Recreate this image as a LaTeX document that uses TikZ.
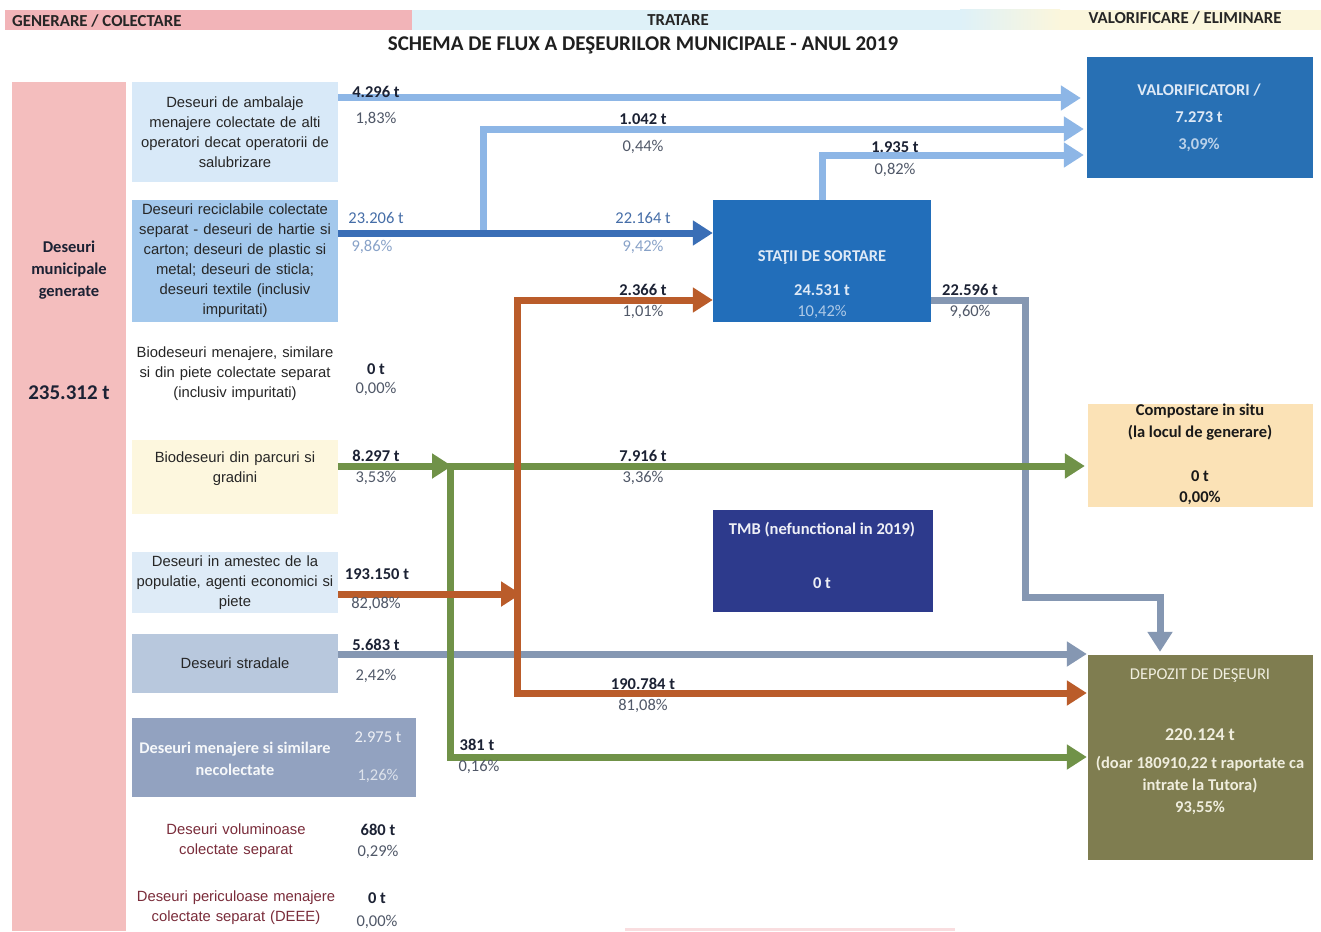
\documentclass[tikz,border=0pt]{standalone}
\usepackage{fontspec}
\setmainfont{Liberation Sans}
\newfontfamily\calib{Carlito}
\usetikzlibrary{arrows.meta}
\definecolor{hpink}{RGB}{242,180,184}
\definecolor{hcyan}{RGB}{222,241,248}
\definecolor{hyellow}{RGB}{251,246,220}
\definecolor{colpink}{RGB}{244,190,190}
\definecolor{boxa}{RGB}{216,233,248}
\definecolor{boxb}{RGB}{163,200,236}
\definecolor{boxd}{RGB}{253,247,222}
\definecolor{boxe}{RGB}{222,235,247}
\definecolor{boxf}{RGB}{184,200,221}
\definecolor{boxg}{RGB}{146,162,192}
\definecolor{cval}{RGB}{40,112,180}
\definecolor{csort}{RGB}{34,110,186}
\definecolor{ccomp}{RGB}{251,226,182}
\definecolor{ctmb}{RGB}{45,58,140}
\definecolor{cdep}{RGB}{127,125,80}
\definecolor{flblue}{RGB}{141,182,230}
\definecolor{fdblue}{RGB}{58,110,182}
\definecolor{fbrown}{RGB}{186,92,42}
\definecolor{fgreen}{RGB}{112,146,72}
\definecolor{fgrey}{RGB}{133,151,178}
\definecolor{ltext}{RGB}{38,38,38}
\definecolor{mtext}{RGB}{122,44,58}
\definecolor{tncol}{RGB}{28,34,52}
\definecolor{pccol}{RGB}{80,88,104}
\definecolor{bltn}{RGB}{70,110,168}
\definecolor{blpc}{RGB}{136,162,200}
\definecolor{wtext}{RGB}{222,233,246}
\definecolor{dtext}{RGB}{240,238,222}
\tikzset{
  ft/.tip={Triangle[width=24pt,length=20pt]},
  lbox/.style={align=center, text width=204pt, inner xsep=1pt, inner ysep=0pt,
    minimum width=206pt, font=\fontsize{14.8}{20}\selectfont, text=ltext},
  tn/.style={font=\calib\bfseries\fontsize{16.5}{18}\selectfont, text=tncol, inner sep=0pt},
  pc/.style={font=\calib\fontsize{16.5}{18}\selectfont, text=pccol, inner sep=0pt},
  hdr/.style={font=\calib\bfseries\fontsize{16.8}{18}\selectfont, text=black!85, inner sep=0pt},
  rbox/.style={inner sep=0pt, draw=none},
  rt/.style={font=\calib\bfseries\fontsize{16.5}{18}\selectfont, inner sep=0pt},
  flow/.style={line width=7pt, line join=miter},
}
\begin{document}
\begin{tikzpicture}[x=1pt,y=-1pt]
\useasboundingbox (0,0) rectangle (1321,931);
\fill[white] (0,0) rectangle (1321,931);
% header band
\fill[hpink] (5,10) rectangle (412,30);
\fill[hcyan] (412,10) rectangle (960,30);
\shade[left color=hcyan, right color=hyellow] (960,10) rectangle (1060,30);
\fill[hyellow] (1060,10) rectangle (1321,30);
\node[hdr, anchor=west] (hgen) at (12,21) {GENERARE / COLECTARE};
\node[hdr] (htrat) at (678,20) {TRATARE};
\node[hdr] (hval) at (1185,18) {VALORIFICARE / ELIMINARE};
\node[font=\calib\bfseries\fontsize{21}{24}\selectfont, text=black!88, inner sep=0pt] (title) at (643,45)
  {SCHEMA DE FLUX A DEŞEURILOR MUNICIPALE - ANUL 2019};
% generated column
\node[fill=colpink, minimum width=114pt, minimum height=849pt, inner sep=0pt, anchor=north west] (gen) at (12,82) {};
\node[align=center, font=\calib\bfseries\fontsize{16.5}{22}\selectfont, text=tncol, inner sep=0pt] (gent) at (69,270)
  {Deseuri\\municipale\\generate};
\node[font=\calib\bfseries\fontsize{21}{24}\selectfont, text=tncol, inner sep=0pt] (gentot) at (69,393) {235.312 t};
% left boxes
\node[lbox, fill=boxa, minimum height=100pt] (b1) at (235,132)
  {Deseuri de ambalaje\\menajere colectate de alti\\operatori decat operatorii de\\salubrizare};
\node[lbox, fill=boxb, minimum height=122pt] (b2) at (235,261)
  {Deseuri reciclabile colectate\\separat - deseuri de hartie si\\carton; deseuri de plastic si\\metal; deseuri de sticla;\\deseuri textile (inclusiv\\impuritati)};
\node[lbox, minimum height=60pt] (b3) at (235,374)
  {Biodeseuri menajere, similare\\si din piete colectate separat\\(inclusiv impuritati)};
\node[lbox, fill=boxd, minimum height=74pt] (b4) at (235,477)
  {Biodeseuri din parcuri si\\gradini\\\mbox{}};
\node[lbox, fill=boxe, minimum height=61pt] (b5) at (235,582.5)
  {Deseuri in amestec de la\\populatie, agenti economici si\\piete};
\node[lbox, fill=boxf, minimum height=59pt] (b6) at (235,663.5) {Deseuri stradale};
\node[rbox, fill=boxg, minimum width=284pt, minimum height=79pt] (b7) at (274,757.5) {};
\node[align=center, font=\calib\bfseries\fontsize{16.3}{22}\selectfont, text=white!92!boxg, inner sep=0pt] (b7t) at (235,759)
  {Deseuri menajere si similare\\necolectate};
\node[lbox, text=mtext] (b8) at (236,840.5) {Deseuri voluminoase\\colectate separat};
\node[lbox, text=mtext] (b9) at (236,908) {Deseuri periculoase menajere\\colectate separat (DEEE)};
% right boxes
\node[rbox, fill=cval, minimum width=226pt, minimum height=121pt] (val) at (1200,117.5) {};
\node[rt, text=wtext] (valt1) at (1199,90) {VALORIFICATORI /};
\node[rt, text=wtext] (valt2) at (1199,117) {7.273 t};
\node[rt, text=wtext!80!cval] (valt3) at (1199,145) {3,09\%};
\node[rbox, fill=csort, minimum width=218pt, minimum height=122pt] (sort) at (822,261) {};
\node[rt, text=wtext] (sortt1) at (822,257) {STAŢII DE SORTARE};
\node[rt, text=wtext] (sortt2) at (822,290) {24.531 t};
\node[rt, font=\calib\fontsize{16.5}{18}\selectfont, text=wtext!75!csort] (sortt3) at (822,312) {10,42\%};
\node[rbox, fill=ccomp, minimum width=225pt, minimum height=103pt] (comp) at (1200.5,455.5) {};
\node[rt, text=black!90] (compt1) at (1200,411) {Compostare in situ};
\node[rt, text=black!90] (compt2) at (1200,433) {(la locul de generare)};
\node[rt, text=black!90] (compt3) at (1200,476) {0 t};
\node[rt, text=black!90] (compt4) at (1200,498) {0,00\%};
\node[rbox, fill=ctmb, minimum width=220pt, minimum height=102pt] (tmb) at (823,561) {};
\node[rt, text=white!92!ctmb] (tmbt1) at (822,530) {TMB (nefunctional in 2019)};
\node[rt, text=white!92!ctmb] (tmbt2) at (822,583) {0 t};
\node[rbox, fill=cdep, minimum width=225pt, minimum height=205pt] (dep) at (1200.5,757.5) {};
\node[rt, font=\calib\fontsize{16.5}{18}\selectfont, text=dtext] (dept1) at (1200,676) {DEPOZIT DE DEŞEURI};
\node[rt, font=\calib\bfseries\fontsize{18}{20}\selectfont, text=dtext] (dept2) at (1200,735) {220.124 t};
\node[rt, text=dtext] (dept3) at (1200,764) {(doar 180910,22 t raportate ca};
\node[rt, text=dtext] (dept4) at (1200,786) {intrate la Tutora)};
\node[rt, text=dtext] (dept5) at (1200,808) {93,55\%};
% faint bar at bottom
\fill[hpink!45] (625,928) rectangle (955,931);
% level coordinates
\coordinate (y98) at (0,98);
\coordinate (y129) at (0,129);
\coordinate (y155) at (0,155);
\coordinate (y233) at (0,233);
\coordinate (y300) at (0,300);
\coordinate (y466) at (0,466);
\coordinate (y594) at (0,594);
\coordinate (y597) at (0,597);
\coordinate (y654) at (0,654);
\coordinate (y693) at (0,693);
\coordinate (y757) at (0,757);
\coordinate (x450) at (450,0);
\coordinate (x483) at (483,0);
\coordinate (x517) at (517,0);
\coordinate (x1025) at (1025,0);
\coordinate (x1160) at (1160,0);
% grey flows
\draw[flow, fgrey, -{ft}, shorten >=1pt] (b6.east |- y654) -- (dep.west |- y654);
\draw[flow, fgrey, -{ft}, shorten >=3pt] (sort.east |- y300) -- (x1025 |- y300) -- (x1025 |- y597)
  -- (x1160 |- y597) -- (x1160 |- dep.north);
% green flows
\draw[flow, fgreen, {ft}-{ft}, shorten <=3pt, shorten >=1pt] (comp.west |- y466) -- (x450 |- y466)
  -- (x450 |- y757) -- (dep.west |- y757);
\draw[flow, fgreen, -{ft}, shorten >=-2pt] (b4.east |- y466) -- (x450 |- y466);
% brown flows
\draw[flow, fbrown, {ft}-{ft}, shorten >=1pt] (sort.west |- y300) -- (x517 |- y300)
  -- (x517 |- y693) -- (dep.west |- y693);
\draw[flow, fbrown, -{ft}, shorten >=-4pt] (b5.east |- y594) -- (x517 |- y594);
% blue flows
\draw[flow, flblue, -{ft}, shorten >=6pt] (b1.east |- y98) -- (val.west |- y98);
\draw[flow, flblue, -{ft}, shorten >=3pt] (x483 |- y233) -- (x483 |- y129) -- (val.west |- y129);
\draw[flow, flblue, -{ft}, shorten >=3pt] (sort.north) -- (sort.north |- y155) -- (val.west |- y155);
\draw[flow, fdblue, -{ft}] (b2.east |- y233) -- (sort.west |- y233);
% labels at sources
\node[tn] (l1t) at (376,92) {4.296 t};
\node[pc] (l1p) at (376,119) {1,83\%};
\node[pc, text=bltn] (l2t) at (376,218) {23.206 t};
\node[pc, text=blpc] (l2p) at (372,247) {9,86\%};
\node[tn] (l3t) at (376,369) {0 t};
\node[pc] (l3p) at (376,389) {0,00\%};
\node[tn] (l4t) at (376,456) {8.297 t};
\node[pc] (l4p) at (376,478) {3,53\%};
\node[tn] (l5t) at (377,574) {193.150 t};
\node[pc] (l5p) at (376,604) {82,08\%};
\node[tn] (l6t) at (376,645) {5.683 t};
\node[pc] (l6p) at (376,676) {2,42\%};
\node[pc, text=white!85!boxg] (l7t) at (378,737) {2.975 t};
\node[pc, text=white!70!boxg] (l7p) at (378,776) {1,26\%};
\node[tn] (l8t) at (378,830) {680 t};
\node[pc] (l8p) at (378,852) {0,29\%};
\node[tn] (l9t) at (377,898) {0 t};
\node[pc] (l9p) at (377,922) {0,00\%};
% labels on flows
\node[tn] (m1t) at (643,119) {1.042 t};
\node[pc] (m1p) at (643,147) {0,44\%};
\node[pc, text=bltn] (m2t) at (643,218) {22.164 t};
\node[pc, text=blpc] (m2p) at (643,247) {9,42\%};
\node[tn] (m3t) at (895,147) {1.935 t};
\node[pc] (m3p) at (895,170) {0,82\%};
\node[tn] (m4t) at (643,290) {2.366 t};
\node[pc] (m4p) at (643,312) {1,01\%};
\node[tn] (m5t) at (970,290) {22.596 t};
\node[pc] (m5p) at (970,312) {9,60\%};
\node[tn] (m6t) at (643,456) {7.916 t};
\node[pc] (m6p) at (643,478) {3,36\%};
\node[tn] (m7t) at (643,684) {190.784 t};
\node[pc] (m7p) at (643,706) {81,08\%};
\node[tn] (m8t) at (477,745) {381 t};
\node[pc] (m8p) at (479,767) {0,16\%};
\end{tikzpicture}
\end{document}
